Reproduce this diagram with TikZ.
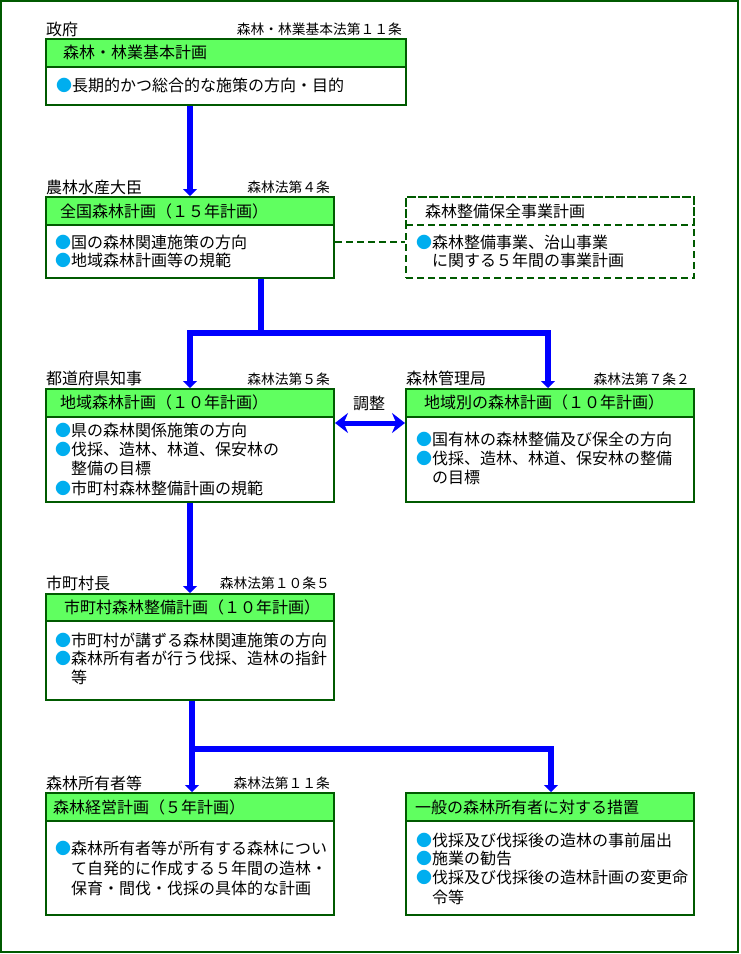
\documentclass[tikz,border=0pt]{standalone}
\usepackage{fontspec}
\setmainfont{Noto Sans CJK JP}
\usetikzlibrary{arrows.meta}
\definecolor{dg}{RGB}{0,90,0}
\definecolor{hg}{RGB}{96,255,96}
\definecolor{bl}{RGB}{0,0,255}
\definecolor{cy}{RGB}{0,174,239}
\newcommand\bul{\textcolor{cy}{●}}
\tikzset{
  box/.style={draw=dg,line width=2pt,fill=white,inner sep=0pt,anchor=north west,rectangle},
  hdr/.style={draw=dg,line width=2pt,fill=hg,inner sep=0pt,anchor=north west,rectangle},
  dbox/.style={draw=dg,line width=2pt,dash pattern=on 7pt off 4pt,inner sep=0pt,anchor=north west,rectangle},
  txt/.style={anchor=west,inner sep=0pt,font=\fontsize{16pt}{19pt}\selectfont,text height=14pt,text depth=2pt},
  law/.style={anchor=east,inner sep=0pt,font=\fontsize{13.75pt}{16pt}\selectfont,text height=12pt,text depth=1.75pt},
  flow/.style={draw=bl,line width=6pt,line join=miter},
  tri/.style={-{Triangle[width=14pt,length=7pt]}},
  dlink/.style={draw=dg,line width=2pt,dash pattern=on 7pt off 4pt},
}
\begin{document}
\begin{tikzpicture}[x=1pt,y=-1pt]
\useasboundingbox (0,0) rectangle (740,954);
\draw[dg,line width=2pt] (1,1) rectangle (738,952);

% Box 1
\node[box,minimum width=360pt,minimum height=66pt] (b1) at (45,38) {};
\node[hdr,minimum width=360pt,minimum height=28pt] (b1h) at (45,38) {};
\node[txt] (l1) at (46,29) {政府};
\node[law] (w1) at (402,29) {森林・林業基本法第１１条};
\node[txt] (h1) at (63,52) {森林・林業基本計画};
\node[txt] (t1a) at (56,85) {\bul 長期的かつ総合的な施策の方向・目的};

% Box 2
\node[box,minimum width=288pt,minimum height=81pt] (b2) at (45,196) {};
\node[hdr,minimum width=288pt,minimum height=28pt] (b2h) at (45,196) {};
\node[txt] (l2) at (46,187) {農林水産大臣};
\node[law] (w2) at (330,187) {森林法第４条};
\node[txt] (h2) at (60,211) {全国森林計画（１５年計画）};
\node[txt] (t2a) at (55,242) {\bul 国の森林関連施策の方向};
\node[txt] (t2b) at (55,260) {\bul 地域森林計画等の規範};

% Dashed box
\node[dbox,minimum width=288pt,minimum height=81pt] (bd) at (405,196) {};
\node[dbox,minimum width=288pt,minimum height=28pt] (bdh) at (405,196) {};
\node[txt] (hd) at (425,211) {森林整備保全事業計画};
\node[txt] (tda) at (416,242) {\bul 森林整備事業、治山事業};
\node[txt] (tdb) at (432,260) {に関する５年間の事業計画};

% Box 3
\node[box,minimum width=288pt,minimum height=113pt] (b3) at (45,388) {};
\node[hdr,minimum width=288pt,minimum height=28pt] (b3h) at (45,388) {};
\node[txt] (l3) at (46,378) {都道府県知事};
\node[law] (w3) at (330,379) {森林法第５条};
\node[txt] (h3) at (60,402) {地域森林計画（１０年計画）};
\node[txt] (t3a) at (55,430) {\bul 県の森林関係施策の方向};
\node[txt] (t3b) at (55,449) {\bul 伐採、造林、林道、保安林の};
\node[txt] (t3c) at (71,468) {整備の目標};
\node[txt] (t3d) at (55,488) {\bul 市町村森林整備計画の規範};

% Box 4
\node[box,minimum width=288pt,minimum height=113pt] (b4) at (405,388) {};
\node[hdr,minimum width=288pt,minimum height=28pt] (b4h) at (405,388) {};
\node[txt] (l4) at (406,378) {森林管理局};
\node[law] (w4) at (690,379) {森林法第７条２};
\node[txt] (h4) at (424,402) {地域別の森林計画（１０年計画）};
\node[txt] (t4a) at (416,439) {\bul 国有林の森林整備及び保全の方向};
\node[txt] (t4b) at (416,458) {\bul 伐採、造林、林道、保安林の整備};
\node[txt] (t4c) at (432,477) {の目標};

% Box 5
\node[box,minimum width=288pt,minimum height=106pt] (b5) at (45,593) {};
\node[hdr,minimum width=288pt,minimum height=27pt] (b5h) at (45,593) {};
\node[txt] (l5) at (46,583) {市町村長};
\node[law] (w5) at (330,583) {森林法第１０条５};
\node[txt] (h5) at (64,607) {市町村森林整備計画（１０年計画）};
\node[txt] (t5a) at (55,640) {\bul 市町村が講ずる森林関連施策の方向};
\node[txt] (t5b) at (55,658) {\bul 森林所有者が行う伐採、造林の指針};
\node[txt] (t5c) at (71,677) {等};

% Box 6
\node[box,minimum width=288pt,minimum height=122pt] (b6) at (45,792) {};
\node[hdr,minimum width=288pt,minimum height=28pt] (b6h) at (45,792) {};
\node[txt] (l6) at (46,783) {森林所有者等};
\node[law] (w6) at (330,783) {森林法第１１条};
\node[txt] (h6) at (53,807) {森林経営計画（５年計画）};
\node[txt] (t6a) at (55,848) {\bul 森林所有者等が所有する森林につい};
\node[txt] (t6b) at (71,868) {て自発的に作成する５年間の造林・};
\node[txt] (t6c) at (71,888) {保育・間伐・伐採の具体的な計画};

% Box 7
\node[box,minimum width=288pt,minimum height=122pt] (b7) at (405,792) {};
\node[hdr,minimum width=288pt,minimum height=28pt] (b7h) at (405,792) {};
\node[txt] (h7) at (415,807) {一般の森林所有者に対する措置};
\node[txt] (t7a) at (416,840) {\bul 伐採及び伐採後の造林の事前届出};
\node[txt] (t7b) at (416,858) {\bul 施業の勧告};
\node[txt] (t7c) at (416,877) {\bul 伐採及び伐採後の造林計画の変更命};
\node[txt] (t7d) at (432,897) {令等};

% Connectors
\draw[flow,tri] ([xshift=145pt]b1.south west) -- ([xshift=145pt]b2.north west);

\coordinate (j1) at (261,333);
\draw[flow] ([xshift=216pt]b2.south west) -- (j1);
\draw[flow,tri] (j1) -| ([xshift=145pt]b3.north west);
\draw[flow,tri] (j1) -| ([xshift=143pt]b4.north west);

\draw[flow,tri] ([xshift=145pt]b3.south west) -- ([xshift=145pt]b5.north west);

\coordinate (j2) at (192,749);
\draw[flow,tri] ([xshift=147pt]b5.south west) -- ([xshift=147pt]b6.north west);
\draw[flow,tri] (j2) -| ([xshift=146pt]b7.north west);

\draw[draw=bl,line width=5pt,{Stealth[width=20pt,length=13pt]}-{Stealth[width=20pt,length=13pt]}]
  ([yshift=-35pt]b3.north east) -- ([yshift=-35pt]b4.north west);
\node[txt,anchor=center] (adj) at (369,403) {調整};

\draw[dlink] ([yshift=-46pt]b2.north east) -- ([yshift=-46pt]bd.north west);
\end{tikzpicture}
\end{document}
